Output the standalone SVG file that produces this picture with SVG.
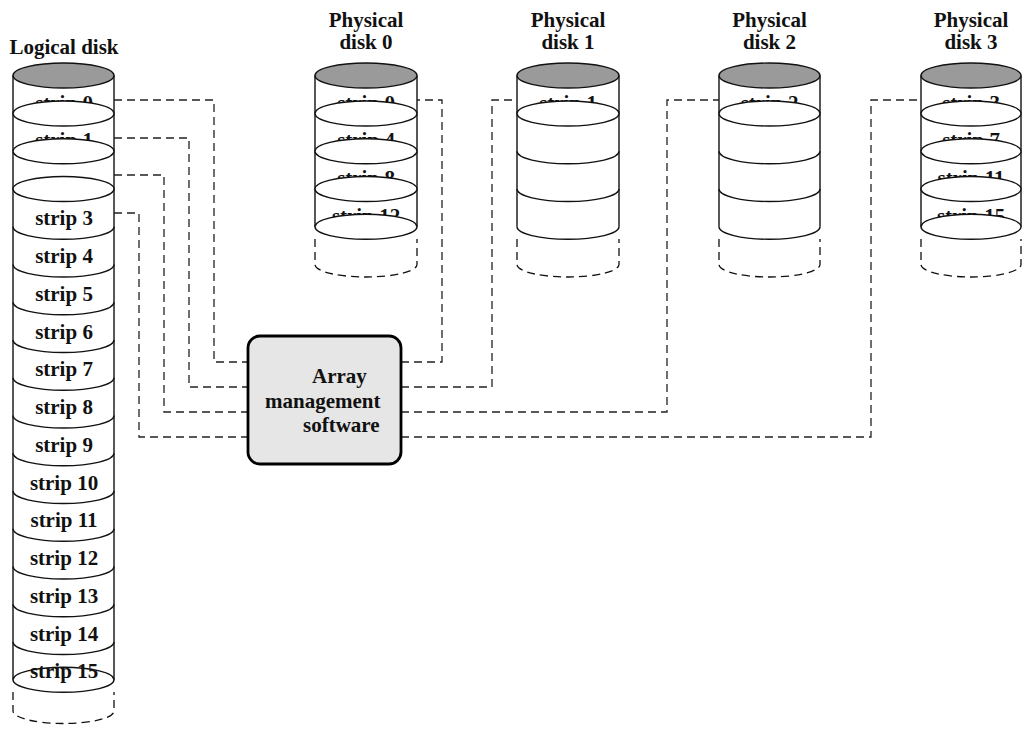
<svg xmlns="http://www.w3.org/2000/svg" width="1023" height="733" viewBox="0 0 1023 733">
<style>
text{font-family:"Liberation Serif","Times New Roman",serif;font-weight:bold;font-size:21px;fill:#111}
.c{text-anchor:middle}
.side{stroke:#111;stroke-width:1.4;fill:none}
.top{fill:#9a9a9a;stroke:#111;stroke-width:1.4}
.sep{fill:#fff;stroke:#111;stroke-width:1.4}
.arc{fill:none;stroke:#111;stroke-width:1.4}
.dash{fill:none;stroke:#111;stroke-width:1.3;stroke-dasharray:8,5}
.conn{fill:none;stroke:#222;stroke-width:1.3;stroke-dasharray:8,5}
.box{fill:#e6e6e6;stroke:#000;stroke-width:2.8}
</style>
<rect width="1023" height="733" fill="#fff"/>

<g id="logical-disk">
<text class="c" x="64" y="54">Logical disk</text>
<line class="side" x1="13" y1="75.5" x2="13" y2="679.75"/>
<line class="side" x1="114" y1="75.5" x2="114" y2="679.75"/>
<ellipse class="top" cx="63.5" cy="75.5" rx="50.5" ry="12.5"/>
<text class="c" x="64" y="109.5">strip 0</text>
<ellipse class="sep" cx="63.5" cy="113.5" rx="50.5" ry="12.5"/>
<text class="c" x="64" y="147">strip 1</text>
<ellipse class="sep" cx="63.5" cy="151.25" rx="50.5" ry="12.5"/>
<ellipse class="sep" cx="63.5" cy="189" rx="50.5" ry="12.5"/>
<text class="c" x="64" y="225.25">strip 3</text>
<path class="arc" d="M13,226.75 A50.5,12.5 0 0 0 114,226.75"/>
<text class="c" x="64" y="263">strip 4</text>
<path class="arc" d="M13,264.5 A50.5,12.5 0 0 0 114,264.5"/>
<text class="c" x="64" y="300.75">strip 5</text>
<path class="arc" d="M13,302.25 A50.5,12.5 0 0 0 114,302.25"/>
<text class="c" x="64" y="338.5">strip 6</text>
<path class="arc" d="M13,340 A50.5,12.5 0 0 0 114,340"/>
<text class="c" x="64" y="376.25">strip 7</text>
<path class="arc" d="M13,377.75 A50.5,12.5 0 0 0 114,377.75"/>
<text class="c" x="64" y="414">strip 8</text>
<path class="arc" d="M13,415.5 A50.5,12.5 0 0 0 114,415.5"/>
<text class="c" x="64" y="451.75">strip 9</text>
<path class="arc" d="M13,453.25 A50.5,12.5 0 0 0 114,453.25"/>
<text class="c" x="64" y="489.5">strip 10</text>
<path class="arc" d="M13,491 A50.5,12.5 0 0 0 114,491"/>
<text class="c" x="64" y="527.25">strip 11</text>
<path class="arc" d="M13,528.75 A50.5,12.5 0 0 0 114,528.75"/>
<text class="c" x="64" y="565">strip 12</text>
<path class="arc" d="M13,566.5 A50.5,12.5 0 0 0 114,566.5"/>
<text class="c" x="64" y="602.75">strip 13</text>
<path class="arc" d="M13,604.25 A50.5,12.5 0 0 0 114,604.25"/>
<text class="c" x="64" y="640.5">strip 14</text>
<path class="arc" d="M13,642 A50.5,12.5 0 0 0 114,642"/>
<ellipse class="sep" cx="63.5" cy="679.75" rx="50.5" ry="12.5"/>
<text class="c" x="64" y="677.5">strip 15</text>
<path class="dash" d="M13,692 V711 A50.5,12.5 0 0 0 114,711 V692"/>
</g>

<g id="physical-disk-0">
<text class="c" x="366" y="27">Physical</text>
<text class="c" x="366" y="49">disk 0</text>
<line class="side" x1="315" y1="75.5" x2="315" y2="226.75"/>
<line class="side" x1="417" y1="75.5" x2="417" y2="226.75"/>
<ellipse class="top" cx="366" cy="75.5" rx="51" ry="12.5"/>
<text class="c" x="366" y="109.5">strip 0</text>
<ellipse class="sep" cx="366" cy="113.5" rx="51" ry="12.5"/>
<text class="c" x="366" y="147">strip 4</text>
<ellipse class="sep" cx="366" cy="151.25" rx="51" ry="12.5"/>
<text class="c" x="366" y="185">strip 8</text>
<ellipse class="sep" cx="366" cy="189" rx="51" ry="12.5"/>
<text class="c" x="366" y="222.5">strip 12</text>
<ellipse class="sep" cx="366" cy="226.75" rx="51" ry="12.5"/>
<path class="dash" d="M315,239 V264.5 A51,12.5 0 0 0 417,264.5 V239"/>
</g>

<g id="physical-disk-1">
<text class="c" x="568" y="27">Physical</text>
<text class="c" x="568" y="49">disk 1</text>
<line class="side" x1="517" y1="75.5" x2="517" y2="226.75"/>
<line class="side" x1="619" y1="75.5" x2="619" y2="226.75"/>
<ellipse class="top" cx="568" cy="75.5" rx="51" ry="12.5"/>
<text class="c" x="568" y="109.5">strip 1</text>
<ellipse class="sep" cx="568" cy="113.5" rx="51" ry="12.5"/>
<path class="arc" d="M517,151.25 A51,12.5 0 0 0 619,151.25"/>
<path class="arc" d="M517,189 A51,12.5 0 0 0 619,189"/>
<path class="arc" d="M517,226.75 A51,12.5 0 0 0 619,226.75"/>
<path class="dash" d="M517,239 V264.5 A51,12.5 0 0 0 619,264.5 V239"/>
</g>

<g id="physical-disk-2">
<text class="c" x="769.5" y="27">Physical</text>
<text class="c" x="769.5" y="49">disk 2</text>
<line class="side" x1="719" y1="75.5" x2="719" y2="226.75"/>
<line class="side" x1="820" y1="75.5" x2="820" y2="226.75"/>
<ellipse class="top" cx="769.5" cy="75.5" rx="50.5" ry="12.5"/>
<text class="c" x="769.5" y="109.5">strip 2</text>
<ellipse class="sep" cx="769.5" cy="113.5" rx="50.5" ry="12.5"/>
<path class="arc" d="M719,151.25 A50.5,12.5 0 0 0 820,151.25"/>
<path class="arc" d="M719,189 A50.5,12.5 0 0 0 820,189"/>
<path class="arc" d="M719,226.75 A50.5,12.5 0 0 0 820,226.75"/>
<path class="dash" d="M719,239 V264.5 A50.5,12.5 0 0 0 820,264.5 V239"/>
</g>

<g id="physical-disk-3">
<text class="c" x="971" y="27">Physical</text>
<text class="c" x="971" y="49">disk 3</text>
<line class="side" x1="921" y1="75.5" x2="921" y2="226.75"/>
<line class="side" x1="1021" y1="75.5" x2="1021" y2="226.75"/>
<ellipse class="top" cx="971" cy="75.5" rx="50" ry="12.5"/>
<text class="c" x="971" y="109.5">strip 3</text>
<ellipse class="sep" cx="971" cy="113.5" rx="50" ry="12.5"/>
<text class="c" x="971" y="147">strip 7</text>
<ellipse class="sep" cx="971" cy="151.25" rx="50" ry="12.5"/>
<text class="c" x="971" y="185">strip 11</text>
<ellipse class="sep" cx="971" cy="189" rx="50" ry="12.5"/>
<text class="c" x="971" y="222.5">strip 15</text>
<ellipse class="sep" cx="971" cy="226.75" rx="50" ry="12.5"/>
<path class="dash" d="M921,239 V264.5 A50,12.5 0 0 0 1021,264.5 V239"/>
</g>

<g id="connectors">
<polyline class="conn" points="114,100 214,100 214,362 248,362"/>
<polyline class="conn" points="114,138 189,138 189,387 248,387"/>
<polyline class="conn" points="114,175 164,175 164,412 248,412"/>
<polyline class="conn" points="114,213 139,213 139,437 248,437"/>
<polyline class="conn" points="401,362 442,362 442,100 417,100"/>
<polyline class="conn" points="401,387 492,387 492,100 517,100"/>
<polyline class="conn" points="401,412 667,412 667,100 719,100"/>
<polyline class="conn" points="401,437 871,437 871,100 921,100"/>
</g>

<g id="array-management-software">
<rect class="box" x="248" y="336" width="153" height="128" rx="12" ry="12"/>
<text x="312" y="383">Array</text>
<text x="265" y="408">management</text>
<text x="303" y="432">software</text>
</g>
</svg>
